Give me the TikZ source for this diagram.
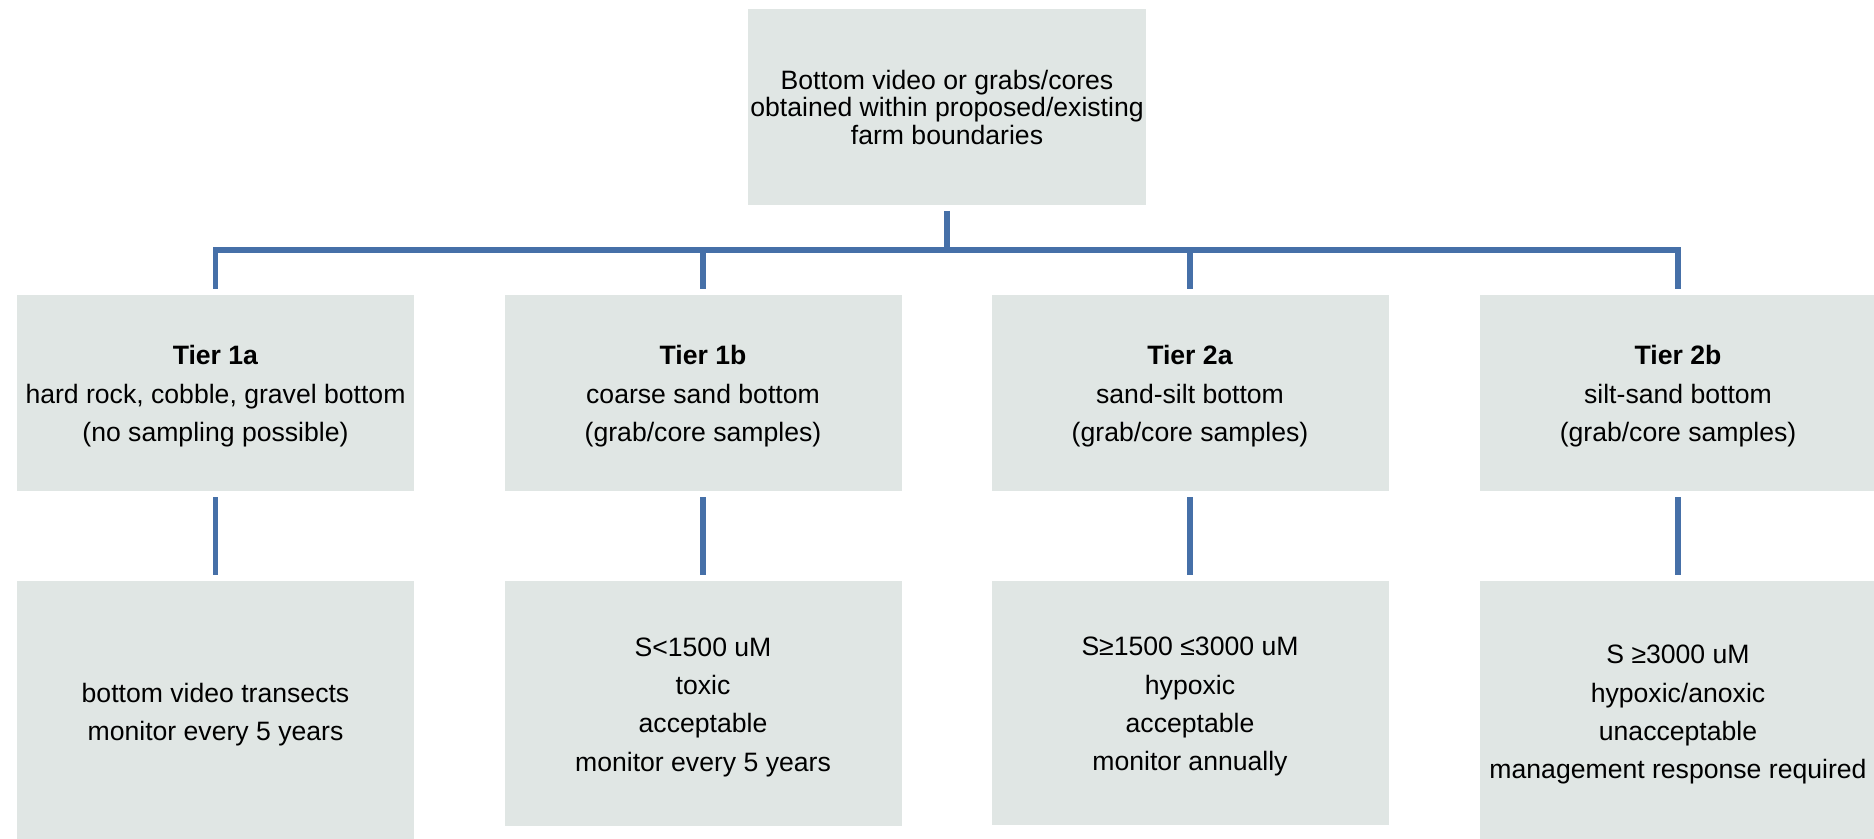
\documentclass[tikz,border=0pt]{standalone}
\usepackage{fontspec}
\setmainfont{Liberation Sans}
\definecolor{boxfill}{RGB}{224,230,228}
\definecolor{linkblue}{RGB}{70,112,168}
\newcommand\myTopFont{\fontsize{13.3}{13.75}\selectfont\lineskiplimit=-20pt\relax}
\newcommand\fl{\rule{0pt}{13pt}}
\begin{document}
\begin{tikzpicture}[x=0.5pt,y=-0.5pt,
  box/.style={fill=boxfill, draw=none, align=center, inner sep=0pt, outer sep=3pt,
    minimum width=198.5pt, font=\fontsize{13.3}{19.2}\selectfont},
  link/.style={draw=linkblue, line width=2.6pt, line join=miter}]
\useasboundingbox (0,0) rectangle (1874,839);

\node[box, minimum width=199pt, minimum height=98pt, font=\myTopFont] (top) at (947,107)
  {Bottom video or grabs/cores\\obtained within proposed/existing\\farm boundaries};

\node[box, minimum height=98pt] (t1) at (215.5,393) {\fl\textbf{Tier 1a}\\hard rock, cobble, gravel bottom\\(no sampling possible)};
\node[box, minimum height=98pt] (t2) at (703,393) {\fl\textbf{Tier 1b}\\coarse sand bottom\\(grab/core samples)};
\node[box, minimum height=98pt] (t3) at (1190,393) {\fl\textbf{Tier 2a}\\sand-silt bottom\\(grab/core samples)};
\node[box, minimum height=98pt] (t4) at (1678,393) {\fl\textbf{Tier 2b}\\silt-sand bottom\\(grab/core samples)};

\node[box, minimum height=130pt] (b1) at (215.5,711) {\fl bottom video transects\\monitor every 5 years};
\node[box, minimum height=122.5pt] (b2) at (703,703.5) {\fl S<1500 uM\\toxic\\acceptable\\monitor every 5 years};
\node[box, minimum height=122pt] (b3) at (1190,703) {\fl S≥1500 ≤3000 uM\\hypoxic\\acceptable\\monitor annually};
\node[box, minimum height=130pt] (b4) at (1678,711) {\fl S ≥3000 uM\\hypoxic/anoxic\\unacceptable\\management response required};

\coordinate (bus) at (947,250);
\draw[link] (top.south) -- (bus);
\draw[link] (t1.north) |- (bus) -| (t4.north);
\draw[link] (t2.north) -- (t2.north |- bus);
\draw[link] (t3.north) -- (t3.north |- bus);

\draw[link] (t1.south) -- (b1.north);
\draw[link] (t2.south) -- (b2.north);
\draw[link] (t3.south) -- (b3.north);
\draw[link] (t4.south) -- (b4.north);
\end{tikzpicture}
\end{document}
